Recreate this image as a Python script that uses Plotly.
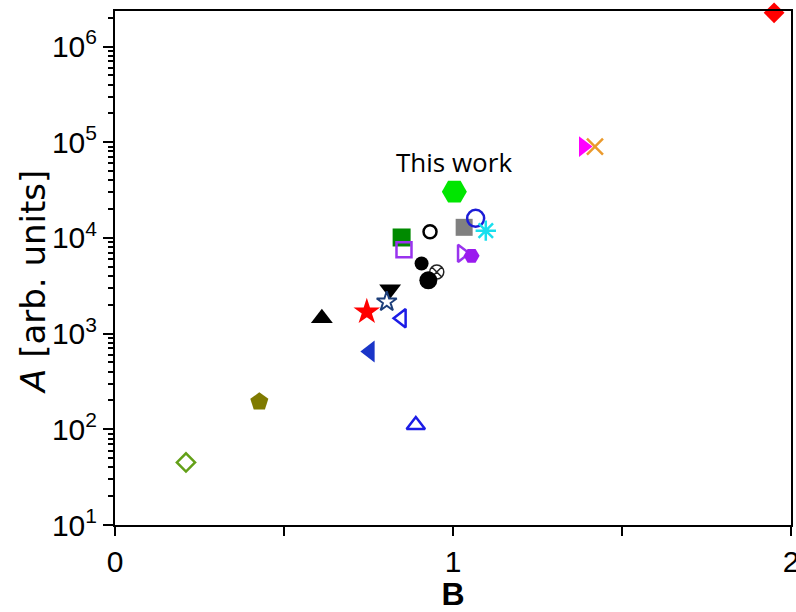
import math
import plotly.graph_objects as go

# ---- data ----
b_values = [1.950, 1.386, 1.420, 1.004, 1.033, 1.067, 1.097, 0.848, 0.932, 0.855,
            1.026, 1.055, 0.907, 0.952, 0.927, 0.814, 0.804, 0.745, 0.848, 0.612,
            0.754, 0.427, 0.890, 0.210]
a_values = [2.25e6, 9.0e4, 9.0e4, 3.04e4, 1.29e4, 1.60e4, 1.19e4, 1.01e4, 1.16e4, 7.5e3,
            6.9e3, 6.5e3, 5.4e3, 4.4e3, 3.6e3, 2.9e3, 2.15e3, 1.69e3, 1.45e3, 1.45e3,
            650, 194, 111, 45]
y_tick_vals = [1e1, 1e2, 1e3, 1e4, 1e5, 1e6]
y_tick_text = ["10<sup>1</sup>", "10<sup>2</sup>", "10<sup>3</sup>", "10<sup>4</sup>",
               "10<sup>5</sup>", "10<sup>6</sup>"]
x_tick_vals = [0, 0.5, 1, 1.5, 2]
x_tick_text = ["0", "", "1", "", "2"]
x_title = "<b>B</b>"
y_title = "<i>A</i> [arb. units]"
highlight_label = "This work"
highlight_index = 3

# ---- marker styles (symbol, colour, size, line width) ----
styles = [
    ("diamond", "#ff0000", 16, 0),
    ("triangle-right", "#ff00ff", 18, 0),
    ("x-thin-open", "#eb9a2c", 16, 2.5),
    ("hexagon2", "#00e600", 25, 0),
    ("square", "#808080", 17, 0),
    ("circle-open", "#1c1cd6", 17, 2.5),
    ("asterisk-open", "#19dfee", 17, 2.5),
    ("square", "#008a00", 18, 0),
    ("circle-open", "#000000", 13, 2.5),
    ("square-open", "#9933ee", 15, 2.5),
    ("triangle-right-open", "#9933ee", 15, 2.5),
    ("hexagon2", "#9a1aee", 16, 0),
    ("circle", "#000000", 14, 0),
    ("circle-x-open", "#222222", 14, 1.5),
    ("circle", "#000000", 18, 0),
    ("triangle-down", "#000000", 19, 0),
    ("star-open", "#1d3f7a", 15, 2),
    ("star", "#ff0000", 20, 0),
    ("triangle-left-open", "#1c1ce6", 16, 2.5),
    ("triangle-up", "#000000", 19, 0),
    ("triangle-left", "#1a35c8", 19, 0),
    ("pentagon", "#7f7a00", 19, 0),
    ("triangle-up-open", "#1c1ce6", 16, 2.5),
    ("diamond-open", "#63a018", 14, 2.5),
]

fig = go.Figure()
for i, (bx, ay) in enumerate(zip(b_values, a_values)):
    sym, col, size, lw = styles[i]
    fig.add_trace(go.Scatter(
        x=[bx], y=[ay], mode="markers", showlegend=False, cliponaxis=False,
        marker=dict(symbol=sym, color=col, size=size,
                    line=dict(color=col, width=lw)),
    ))

# annotations on a log axis take log10 coordinates
fig.add_annotation(x=b_values[highlight_index], y=math.log10(a_values[highlight_index]),
                   text=highlight_label, showarrow=False, yshift=30,
                   font=dict(family="Open Sans", size=26, color="black"))

# y-axis title as a rotated annotation (placed like the reference)
fig.add_annotation(xref="paper", yref="paper", x=0, y=0.473, xshift=-82,
                   text=y_title, textangle=-90, showarrow=False,
                   xanchor="center", yanchor="middle",
                   font=dict(family="DejaVu Sans", size=34, color="black"))

axis_font = dict(family="Liberation Sans, Arial", size=30, color="black")
fig.update_xaxes(range=[0, 2], tickvals=x_tick_vals, ticktext=x_tick_text,
                 ticks="outside", ticklen=9, tickwidth=2, tickcolor="black",
                 ticklabeloverflow="allow", automargin=False,
                 showline=True, linewidth=2, linecolor="black", mirror=True,
                 showgrid=False, zeroline=False, tickfont=axis_font,
                 title=dict(text=x_title, font=dict(family="Liberation Sans, Arial", size=32, color="black"),
                            standoff=4))
fig.update_yaxes(type="log", range=[1, 6.371], tickvals=y_tick_vals, ticktext=y_tick_text,
                 ticks="outside", ticklen=10, tickwidth=2, tickcolor="black",
                 automargin=False,
                 minor=dict(ticks="outside", ticklen=5, tickwidth=1.5, tickcolor="black",
                            dtick="D1", showgrid=False),
                 showline=True, linewidth=2, linecolor="black", mirror=True,
                 showgrid=False, zeroline=False, tickfont=axis_font)

fig.update_layout(width=796, height=612, plot_bgcolor="white", paper_bgcolor="white",
                  margin=dict(l=115, r=5, t=11, b=87))
fig.write_html("out.html")
